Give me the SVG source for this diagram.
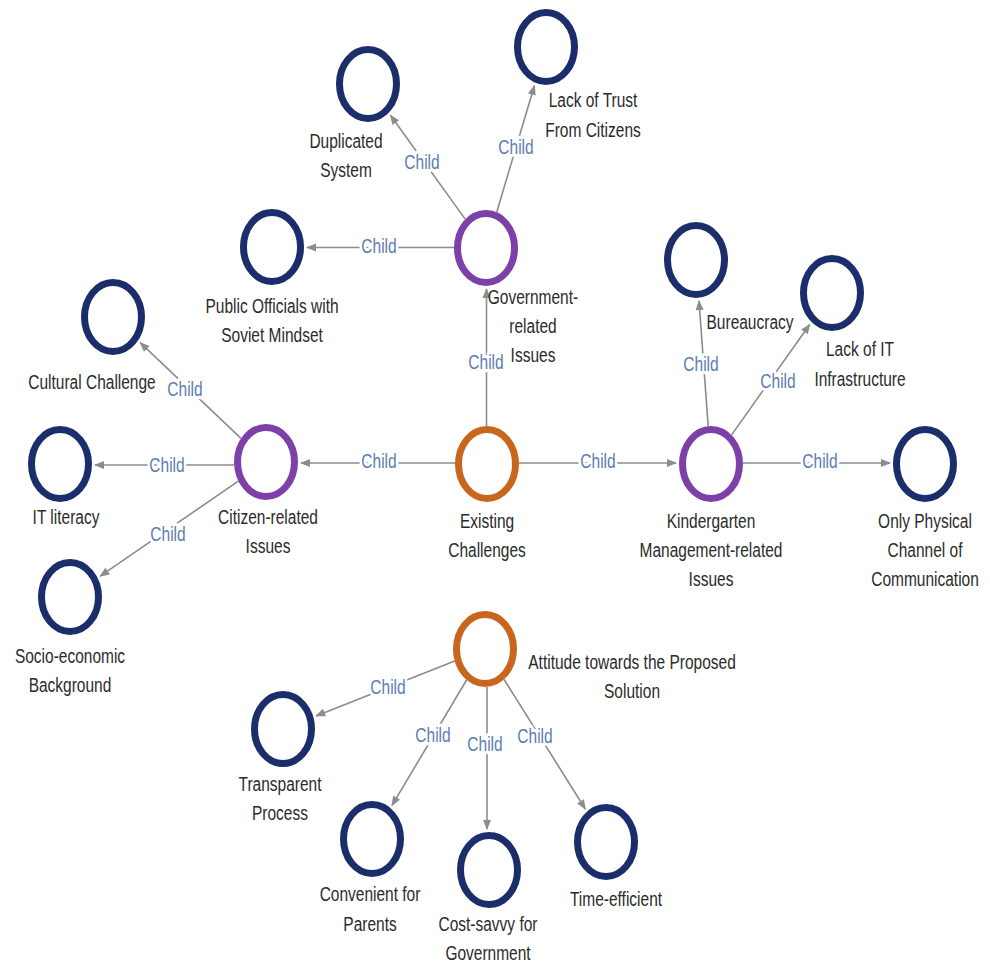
<svg xmlns="http://www.w3.org/2000/svg" width="990" height="966" viewBox="0 0 990 966">
<style>
.bg{fill:#ffffff}
.n ellipse{fill:none;stroke-width:7}
.navy ellipse{stroke:#1b2d6b}
.purple ellipse{stroke:#7d3fa8}
.orange ellipse{stroke:#c8661e}
text{font-family:"Liberation Sans",Arial,sans-serif;font-size:15.5px;text-anchor:middle}
.t{fill:#2b2b2b}
.c{fill:#5b7db3;stroke:#ffffff;stroke-width:5px;paint-order:stroke;stroke-linejoin:round}
.e line{stroke:#8c8c8c;stroke-width:1.6;marker-end:url(#ah)}
</style>
<defs>
<marker id="ah" viewBox="0 0 10 10" refX="9" refY="5" markerWidth="11" markerHeight="10" markerUnits="userSpaceOnUse" orient="auto">
<path d="M0,1 L10,5 L0,9 z" fill="#8c8c8c"/>
</marker>
</defs>
<rect class="bg" x="0" y="0" width="990" height="966"/>

<g id="connectors" class="e">
<line x1="486.5" y1="426" x2="486.5" y2="289"/>
<line x1="455" y1="463" x2="301" y2="463"/>
<line x1="519" y1="463" x2="676" y2="463"/>
<line x1="743" y1="463" x2="890" y2="463"/>
<line x1="708.2" y1="426.1" x2="699" y2="301"/>
<line x1="731.6" y1="434.9" x2="809.7" y2="324.5"/>
<line x1="454" y1="247.5" x2="307" y2="247.5"/>
<line x1="465.2" y1="219.1" x2="390.5" y2="115.3"/>
<line x1="496.7" y1="212.2" x2="534.4" y2="85.7"/>
<line x1="241" y1="438.3" x2="140.2" y2="342.7"/>
<line x1="234" y1="465" x2="95" y2="465"/>
<line x1="238.3" y1="481.1" x2="100.2" y2="576.2"/>
<line x1="454.7" y1="661" x2="316.1" y2="715.9"/>
<line x1="466.6" y1="680" x2="392" y2="805.4"/>
<line x1="487" y1="687" x2="487" y2="829"/>
<line x1="504.1" y1="679.5" x2="585.3" y2="809"/>
<text class="c" transform="translate(486 369) scale(1 1.25)">Child</text>
<text class="c" transform="translate(379 468) scale(1 1.25)">Child</text>
<text class="c" transform="translate(598 468) scale(1 1.25)">Child</text>
<text class="c" transform="translate(820 468) scale(1 1.25)">Child</text>
<text class="c" transform="translate(701 371) scale(1 1.25)">Child</text>
<text class="c" transform="translate(778 388) scale(1 1.25)">Child</text>
<text class="c" transform="translate(379 253) scale(1 1.25)">Child</text>
<text class="c" transform="translate(422 169) scale(1 1.25)">Child</text>
<text class="c" transform="translate(516 154) scale(1 1.25)">Child</text>
<text class="c" transform="translate(185 396) scale(1 1.25)">Child</text>
<text class="c" transform="translate(167 472) scale(1 1.25)">Child</text>
<text class="c" transform="translate(168 541) scale(1 1.25)">Child</text>
<text class="c" transform="translate(388 694) scale(1 1.25)">Child</text>
<text class="c" transform="translate(433 742) scale(1 1.25)">Child</text>
<text class="c" transform="translate(485 751) scale(1 1.25)">Child</text>
<text class="c" transform="translate(535 743) scale(1 1.25)">Child</text>
</g>

<g id="existing" class="n orange"><ellipse cx="487" cy="464" rx="28.5" ry="34.5"/>
<text class="t" transform="translate(487 528) scale(1 1.25)"><tspan x="0">Existing</tspan><tspan x="0" dy="23.2">Challenges</tspan></text></g>

<g id="attitude" class="n orange"><ellipse cx="485" cy="649" rx="28.5" ry="34.5"/>
<text class="t" transform="translate(632 669) scale(1 1.25)"><tspan x="0">Attitude towards the Proposed</tspan><tspan x="0" dy="23.2">Solution</tspan></text></g>

<g id="citizen" class="n purple"><ellipse cx="266" cy="462" rx="28.5" ry="34.5"/>
<text class="t" transform="translate(268 524) scale(1 1.25)"><tspan x="0">Citizen-related</tspan><tspan x="0" dy="23.2">Issues</tspan></text></g>

<g id="government" class="n purple"><ellipse cx="486" cy="248" rx="28.5" ry="34.5"/>
<text class="t" transform="translate(533 304) scale(1 1.25)"><tspan x="0">Government-</tspan><tspan x="0" dy="23.2">related</tspan><tspan x="0" dy="23.2">Issues</tspan></text></g>

<g id="kindergarten" class="n purple"><ellipse cx="711" cy="464" rx="28.5" ry="34.5"/>
<text class="t" transform="translate(711 528) scale(1 1.25)"><tspan x="0">Kindergarten</tspan><tspan x="0" dy="23.2">Management-related</tspan><tspan x="0" dy="23.2">Issues</tspan></text></g>

<g id="lack-trust" class="n navy"><ellipse cx="546" cy="47" rx="28.5" ry="34.5"/>
<text class="t" transform="translate(593 107) scale(1 1.25)"><tspan x="0">Lack of Trust</tspan><tspan x="0" dy="24">From Citizens</tspan></text></g>

<g id="duplicated" class="n navy"><ellipse cx="368" cy="84" rx="28.5" ry="34.5"/>
<text class="t" transform="translate(346 148) scale(1 1.25)"><tspan x="0">Duplicated</tspan><tspan x="0" dy="23.2">System</tspan></text></g>

<g id="public-officials" class="n navy"><ellipse cx="272" cy="247" rx="28.5" ry="34.5"/>
<text class="t" transform="translate(272 313) scale(1 1.25)"><tspan x="0">Public Officials with</tspan><tspan x="0" dy="23.2">Soviet Mindset</tspan></text></g>

<g id="cultural" class="n navy"><ellipse cx="113" cy="317" rx="28.5" ry="34.5"/>
<text class="t" transform="translate(92 389) scale(1 1.25)">Cultural Challenge</text></g>

<g id="it-literacy" class="n navy"><ellipse cx="60" cy="464" rx="28.5" ry="34.5"/>
<text class="t" transform="translate(66 524) scale(1 1.25)">IT literacy</text></g>

<g id="socio" class="n navy"><ellipse cx="70" cy="597" rx="28.5" ry="34.5"/>
<text class="t" transform="translate(70 663) scale(1 1.25)"><tspan x="0">Socio-economic</tspan><tspan x="0" dy="23.2">Background</tspan></text></g>

<g id="bureaucracy" class="n navy"><ellipse cx="696" cy="260" rx="28.5" ry="34.5"/>
<text class="t" transform="translate(750 329) scale(1 1.25)">Bureaucracy</text></g>

<g id="lack-it" class="n navy"><ellipse cx="832" cy="293" rx="28.5" ry="34.5"/>
<text class="t" transform="translate(860 356) scale(1 1.25)"><tspan x="0">Lack of IT</tspan><tspan x="0" dy="24">Infrastructure</tspan></text></g>

<g id="only-physical" class="n navy"><ellipse cx="925" cy="464" rx="28.5" ry="34.5"/>
<text class="t" transform="translate(925 528) scale(1 1.25)"><tspan x="0">Only Physical</tspan><tspan x="0" dy="23.2">Channel of</tspan><tspan x="0" dy="23.2">Communication</tspan></text></g>

<g id="transparent" class="n navy"><ellipse cx="283" cy="729" rx="28.5" ry="34.5"/>
<text class="t" transform="translate(280 791) scale(1 1.25)"><tspan x="0">Transparent</tspan><tspan x="0" dy="23.2">Process</tspan></text></g>

<g id="convenient" class="n navy"><ellipse cx="372" cy="839" rx="28.5" ry="34.5"/>
<text class="t" transform="translate(370 901) scale(1 1.25)"><tspan x="0">Convenient for</tspan><tspan x="0" dy="24">Parents</tspan></text></g>

<g id="cost-savvy" class="n navy"><ellipse cx="489" cy="870" rx="28.5" ry="34.5"/>
<text class="t" transform="translate(488 931) scale(1 1.25)"><tspan x="0">Cost-savvy for</tspan><tspan x="0" dy="23.2">Government</tspan></text></g>

<g id="time-efficient" class="n navy"><ellipse cx="606" cy="842" rx="28.5" ry="34.5"/>
<text class="t" transform="translate(616 906) scale(1 1.25)">Time-efficient</text></g>
</svg>
